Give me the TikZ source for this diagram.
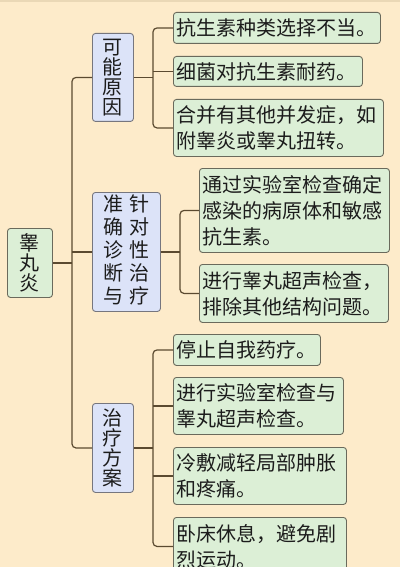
\documentclass[tikz,border=0pt]{standalone}
\usepackage{fontspec}
\setmainfont{Noto Sans CJK SC}
\definecolor{bg}{HTML}{FDEBCA}
\definecolor{topband}{HTML}{EAD8B6}
\definecolor{gfill}{HTML}{DCEFD6}
\definecolor{gdraw}{HTML}{6A6A5C}
\definecolor{bfill}{HTML}{DCE3F8}
\definecolor{bdraw}{HTML}{76767E}
\definecolor{conn}{HTML}{5B4A30}
\definecolor{txt}{HTML}{1C1C1C}
\tikzset{
  leaf/.style={draw=gdraw, fill=gfill, line width=0.9pt, rounded corners=3pt,
    anchor=north west, inner xsep=3pt, inner ysep=0pt, text=txt, align=left,
    font=\fontsize{20}{26}\selectfont},
  rootbox/.style={draw=gdraw, fill=gfill, line width=0.9pt, rounded corners=3pt,
    anchor=north west, inner sep=0pt, text=txt, align=center,
    font=\fontsize{20}{20}\selectfont},
  midbox/.style={draw=bdraw, fill=bfill, line width=0.9pt, rounded corners=3pt,
    anchor=north west, inner sep=0pt, text=txt, align=center,
    font=\fontsize{20}{20}\selectfont},
  conline/.style={draw=conn, line width=1.2pt, rounded corners=4pt}
}
\begin{document}
\begin{tikzpicture}[x=1pt,y=-1pt]
\fill[bg] (0,0) rectangle (400,567);
\fill[topband] (0,0) rectangle (400,2);
\useasboundingbox (0,0) rectangle (400,567);

% root
\node[rootbox, minimum width=45pt, minimum height=69pt] (root) at (7,228) {睾\\丸\\炎};

% branches
\node[midbox, minimum width=41pt, minimum height=88pt] (b1) at (92,33) {可\\能\\原\\因};
\node[midbox, minimum width=68pt, minimum height=119pt] (b2) at (92,192)
  {\begin{tabular}{@{}c@{\hspace{6pt}}c@{}}准&针\\确&对\\诊&性\\断&治\\与&疗\end{tabular}};
\node[midbox, minimum width=41pt, minimum height=89pt] (b3) at (92,403) {治\\疗\\方\\案};

% leaves of branch 1
\node[leaf, text width=201pt, minimum height=31pt] (c11) at (173,12) {抗生素种类选择不当。};
\node[leaf, text width=183pt, minimum height=30pt] (c12) at (173,56) {细菌对抗生素耐药。};
\node[leaf, text width=204pt, minimum height=57pt] (c13) at (173,99) {合并有其他并发症，如\\附睾炎或睾丸扭转。};

% leaves of branch 2
\node[leaf, text width=184pt, minimum height=84pt] (c21) at (199,168) {通过实验室检查确定\\感染的病原体和敏感\\抗生素。};
\node[leaf, text width=183pt, minimum height=58pt] (c22) at (199,264) {进行睾丸超声检查，\\排除其他结构问题。};

% leaves of branch 3
\node[leaf, text width=141pt, minimum height=31pt] (c31) at (173,334) {停止自我药疗。};
\node[leaf, text width=164pt, minimum height=57pt] (c32) at (173,377) {进行实验室检查与\\睾丸超声检查。};
\node[leaf, text width=167pt, minimum height=57pt] (c33) at (173,447) {冷敷减轻局部肿胀\\和疼痛。};
\node[leaf, text width=167pt, minimum height=58pt] (c34) at (173,517) {卧床休息，避免剧\\烈运动。};

% trunk coordinates
\coordinate (t) at (72,0);
\coordinate (s1) at (153,0);
\coordinate (s2) at (180,0);
\coordinate (s3) at (153,0);

% main trunk
\draw[conline] (root.east) -- (root.east -| t);
\draw[conline] (b1.west) -- (b1.west -| t) -- (b3.west -| t) -- (b3.west);
\draw[conline] (b2.west -| t) -- (b2.west);

% sub trunk 1
\draw[conline] (b1.east) -- (b1.east -| s1);
\draw[conline] (c11.west) -- (c11.west -| s1) -- (c13.west -| s1) -- (c13.west);
\draw[conline] (c12.west -| s1) -- (c12.west);

% sub trunk 2
\draw[conline] (b2.east) -- (b2.east -| s2);
\draw[conline] (c21.west) -- (c21.west -| s2) -- (c22.west -| s2) -- (c22.west);

% sub trunk 3
\draw[conline] (b3.east) -- (b3.east -| s3);
\draw[conline] (c31.west) -- (c31.west -| s3) -- (c34.west -| s3) -- (c34.west);
\draw[conline] (c32.west -| s3) -- (c32.west);
\draw[conline] (c33.west -| s3) -- (c33.west);
\end{tikzpicture}
\end{document}
